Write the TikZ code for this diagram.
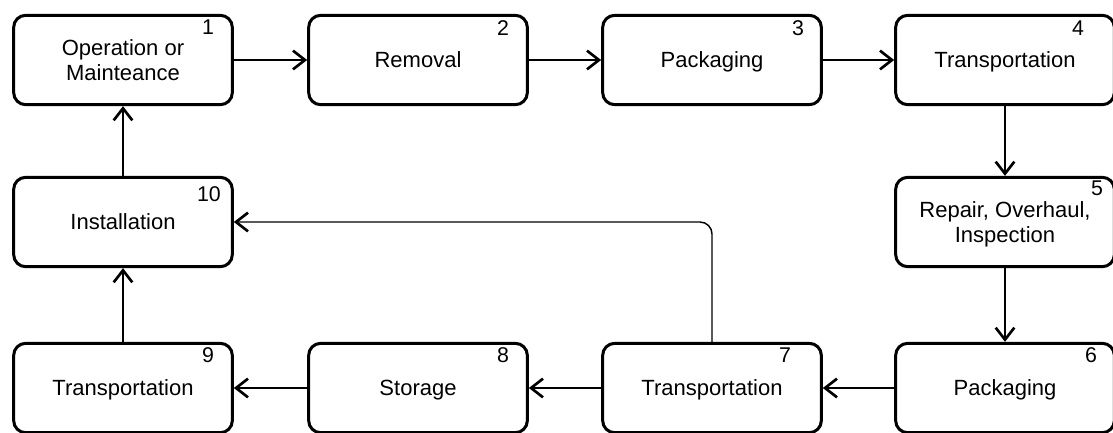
\documentclass[tikz,border=0pt]{standalone}
\usepackage{fontspec}
\setmainfont{Liberation Sans}
\usepackage{tikz}
\usetikzlibrary{arrows.meta, positioning}
\newcommand{\topst}{\rule{0pt}{16.8pt}}
\newcommand{\botst}{\rule[-5pt]{0pt}{5pt}}
\tikzset{stepbox/.style={draw=black, fill=white, line width=2.25pt, rounded corners=9pt, minimum width=164pt, minimum height=67pt, align=center, font=\fontsize{16.5}{19}\selectfont},
    num/.style={inner sep=0pt, font=\fontsize{16}{18}\selectfont},
    flow/.style={line width=1.1pt, -{Straight Barb[length=9pt, width=14pt, line width=2pt]}}}

\begin{document}
\begin{tikzpicture}[x=0.75pt, y=-0.75pt]
                \clip (0,0) rectangle (1113,432);

                % top row
                \node[stepbox] (b1) at (123,60) {\topst Operation or\\Mainteance\botst};
                \node[stepbox] (b2) at (418,60) {\topst Removal\botst};
                \node[stepbox] (b3) at (712,60) {\topst Packaging\botst};
                \node[stepbox] (b4) at (1005,60) {\topst Transportation\botst};

                % middle row
                \node[stepbox] (b10) at (123,222) {\topst Installation\botst};
                \node[stepbox] (b5) at (1005,222) {\topst Repair, Overhaul,\\Inspection\botst};

                % bottom row
                \node[stepbox] (b9) at (123,388) {\topst Transportation\botst};
                \node[stepbox] (b8) at (418,388) {\topst Storage\botst};
                \node[stepbox] (b7) at (712,388) {\topst Transportation\botst};
                \node[stepbox] (b6) at (1005,388) {\topst Packaging\botst};

                % numbers
                \node[num] (n1) at (208,27) {1};
                \node[num] (n2) at (503,28) {2};
                \node[num] (n3) at (798,28) {3};
                \node[num] (n4) at (1078,28) {4};
                \node[num] (n5) at (1097,188) {5};
                \node[num] (n10) at (209,194) {10};
                \node[num] (n9) at (208,355) {9};
                \node[num] (n8) at (503,355) {8};
                \node[num] (n7) at (785,355) {7};
                \node[num] (n6) at (1091,355) {6};

                \draw[flow] (b1) -- (b2);
                \draw[flow] (b2) -- (b3);
                \draw[flow] (b3) -- (b4);
                \draw[flow] (b4) -- (b5);
                \draw[flow] (b5) -- (b6);
                \draw[flow] (b6) -- (b7);
                \draw[flow] (b7) -- (b8);
                \draw[flow] (b8) -- (b9);
                \draw[flow] (b9) -- (b10);
                \draw[flow] (b10) -- (b1);
                \draw[flow, rounded corners=9pt] (b7.north) |- (b10.east);
\end{tikzpicture}
\end{document}
